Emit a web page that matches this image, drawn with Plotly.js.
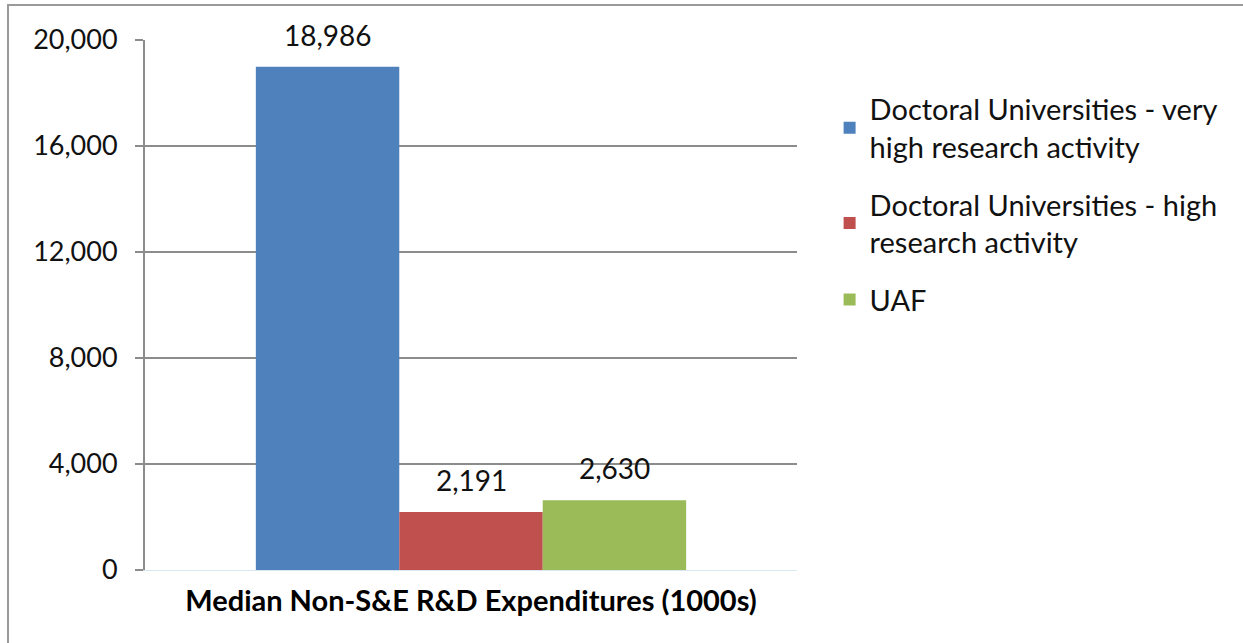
<!DOCTYPE html>
<html><head><meta charset="utf-8">
<script src="https://cdn.plot.ly/plotly-3.0.1.min.js"></script>
<style>
html,body{margin:0;padding:0;background:#fff;}
#wrap{position:absolute;left:0;top:0;width:1243px;height:643px;}
#frame{position:absolute;left:7px;top:4px;width:1236px;height:639px;border-left:2px solid #9a9a9a;border-top:2px solid #9a9a9a;box-sizing:border-box;pointer-events:none;}
#chart{width:1243px;height:643px;}
</style></head>
<body><div id="wrap"><div id="chart"></div><div id="frame"></div></div>
<script>
const category = ["Median Non-S&E R&D Expenditures (1000s)"];
const seriesNames = [
  "Doctoral Universities - very<br>high research activity",
  "Doctoral Universities - high<br>research activity",
  "UAF"
];
const seriesValues = [18986, 2191, 2630];
const seriesColors = ["#4f81bd", "#c0504d", "#9bbb59"];
const yTicks = [0, 4000, 8000, 12000, 16000, 20000];
const yTickText = ["0", "4,000", "8,000", "12,000", "16,000", "20,000"];

const FONT = "Lato, 'Open Sans', sans-serif";
const traces = seriesNames.map((n, i) => ({
  type: "bar", name: n, x: category, y: [seriesValues[i]], legendgroup: "g" + i,
  marker: {color: seriesColors[i]}, hoverinfo: "none"
}));
const annotations = seriesNames.map((n, i) => ({
  x: category[0], y: seriesValues[i], xref: "x", yref: "y",
  text: seriesValues[i].toLocaleString("en-US"), showarrow: false,
  xshift: (i - 1) * 143.5, yshift: 32, font: {family: FONT, size: 28, color: "#111"}
}));
const layout = {
  width: 1243, height: 643,
  margin: {l: 145, r: 446, t: 40, b: 73},
  paper_bgcolor: "#fff", plot_bgcolor: "#fff",
  barmode: "group", bargap: 0.34, bargroupgap: 0,
  showlegend: true,
  legend: {x: 1.05, xanchor: "left", y: 0.918, yanchor: "top",
    font: {family: FONT, size: 29, color: "#111"}, tracegroupgap: 17,
    itemwidth: 30, traceorder: "grouped"},
  xaxis: {showticklabels: false, showgrid: false, zeroline: false,
    showline: true, linecolor: "#d8e8f0", linewidth: 1,
    title: {text: "<b>" + category[0] + "</b>", font: {family: FONT, size: 29, color: "#000"}, standoff: 20}},
  yaxis: {range: [0, 20000], tickvals: yTicks, ticktext: yTickText,
    showgrid: true, gridcolor: "#8c8c8c", gridwidth: 2, zeroline: false,
    showline: true, linecolor: "#8c8c8c", linewidth: 2,
    ticks: "outside", ticklen: 8, tickwidth: 2, tickcolor: "#8c8c8c",
    tickfont: {family: FONT, size: 27, color: "#111"}, ticklabelstandoff: 12},
  annotations: annotations
};
Plotly.newPlot("chart", traces, layout, {displayModeBar: false, staticPlot: true});
</script></body></html>
